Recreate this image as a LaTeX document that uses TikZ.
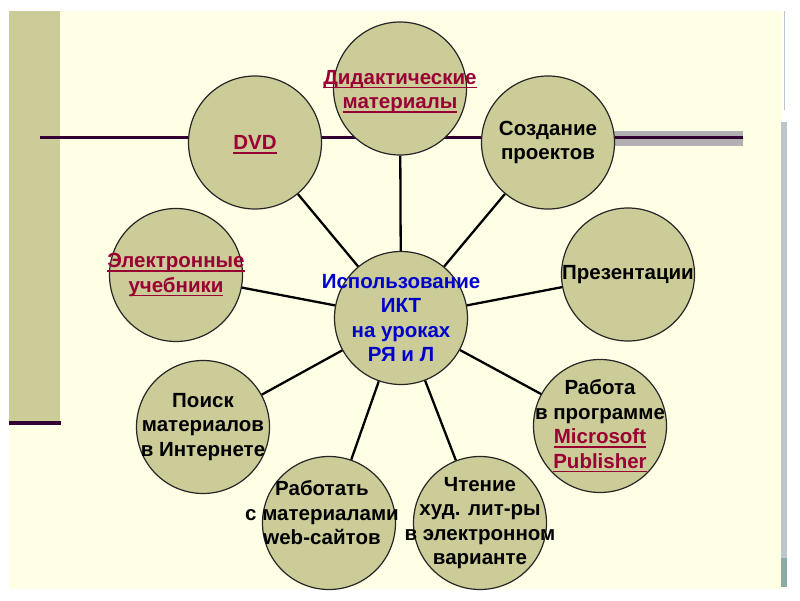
\documentclass[tikz,border=0pt]{standalone}
\usepackage{fontspec}
\setmainfont{Liberation Sans}
\definecolor{slidecream}{RGB}{255,255,229}
\definecolor{bubbleolive}{RGB}{204,204,153}
\definecolor{darkplum}{RGB}{51,0,51}
\definecolor{linkred}{RGB}{153,0,51}
\definecolor{hubblue}{RGB}{0,0,204}
\definecolor{shadowgray}{RGB}{178,176,178}
\definecolor{barblue}{RGB}{188,198,204}
\definecolor{barteal}{RGB}{140,170,164}
\newcommand{\linkword}[1]{% underlined hyperlink word, rule in the current colour
  \setbox0=\hbox{#1}\rlap{\raisebox{-4pt}{\rule{\wd0}{1.6pt}}}\box0}

\begin{document}
\begin{tikzpicture}[x=1pt,y=-1pt,
  bubble/.style={circle, draw=black!85, line width=1.2pt, fill=bubbleolive,
    minimum size=133pt, inner sep=0pt},
  txt/.style={align=center, font=\fontsize{20.5}{24.5}\selectfont\bfseries},
  spoke/.style={line width=2.3pt, black}]
  \useasboundingbox (0,0) rectangle (800,600);
  % slide background and its decorations
  \fill[slidecream] (9,11) rectangle (782,589);
  \fill[bubbleolive] (9,11) rectangle (60,421);
  \fill[darkplum] (9,421) rectangle (61,425);
  \draw[line width=1pt, barblue] (784,11) -- (784,110);
  \fill[barblue] (781,122) rectangle (787,558);
  \fill[barteal] (781,558) rectangle (787,587);
  \fill[shadowgray] (560,131) rectangle (743,146);
  \draw[line width=2.2pt, darkplum] (40,137.5) -- (743,137.5);

  % centre and satellites
  \node[bubble, label={[txt, text=hubblue]center:{Использование\\ИКТ\\на уроках\\РЯ и Л}}] (hub) at (401,318) {};
  \node[bubble, label={[txt, text=linkred, yshift=-3pt]center:{\linkword{Дидактические}\\\linkword{материалы}}}] (didact) at (400,88.5) {};
  \node[bubble, label={[txt, text=linkred, yshift=-2pt]center:{\linkword{DVD}}}] (dvd) at (255,142.5) {};
  \node[bubble, label={[txt]center:{Создание\\проектов}}] (project) at (548,142.5) {};
  \node[bubble, label={[txt]center:{Презентации}}] (present) at (628,274.5) {};
  \node[bubble, label={[txt, text=linkred]center:{\linkword{Электронные}\\\linkword{учебники}}}] (ebook) at (176,275) {};
  \node[bubble, label={[txt]center:{Поиск\\материалов\\в Интернете}}] (search) at (203,427) {};
  \node[bubble, label={[txt, xshift=-7pt, yshift=10pt]center:{Работать\\с материалами\\web-сайтов}}] (websites) at (329,523) {};
  \node[bubble, label={[txt]center:{Чтение\\худ. лит-ры\\в электронном\\варианте}}] (reading) at (480,523) {};
  \node[bubble, label={[txt]center:{Работа\\в программе\\{\color{linkred}\linkword{Microsoft}}\\{\color{linkred}\linkword{Publisher}}}}] (publisher) at (600,426) {};

  \foreach \sat in {didact,dvd,project,present,ebook,search,websites,reading,publisher}
    \draw[spoke] (hub) -- (\sat);
\end{tikzpicture}
\end{document}
